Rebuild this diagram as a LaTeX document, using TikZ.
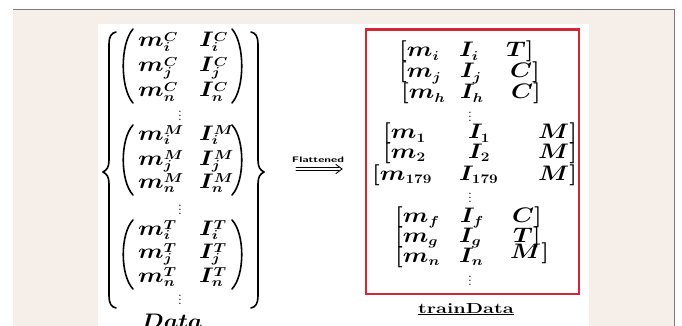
\RequirePackage{fix-cm}
\documentclass[tikz,border=0pt]{standalone}
\DeclareMathSizes{21}{21}{13}{10}
\DeclareMathSizes{14}{14}{10}{7}
\definecolor{panelbg}{RGB}{246,238,233}
\definecolor{panelrule}{RGB}{128,122,122}
\definecolor{boxred}{RGB}{214,38,54}
% compact superscript/subscript pair, kept close to the base letter
\newcommand{\tightss}[3]{#1^{\smash{\raisebox{-2.5pt}{$\scriptstyle #3$}}}_{\smash{\raisebox{1.5pt}{$\scriptstyle #2$}}}}
\tikzset{
  mathent/.style={inner sep=0pt, anchor=base west, xscale=1.18, font=\boldmath\fontsize{21}{23}\selectfont},
  dotsent/.style={inner sep=0pt, anchor=center, font=\boldmath\fontsize{14}{16}\selectfont},
  delim/.style={line width=1.6pt, line cap=round},
  bracedelim/.style={line width=1.6pt, line cap=round, line join=round},
  flatline/.style={line width=0.9pt, line cap=round, line join=miter},
}
\begin{document}
\begin{tikzpicture}[x=1pt,y=-1pt]
\useasboundingbox (0,0) rectangle (682,326);
\clip (0,0) rectangle (682,326);
% page and panel
\fill[white] (0,0) rectangle (682,326);
\fill[panelbg] (13,9.5) rectangle (674.5,326);
\draw[panelrule, line width=0.8pt] (13,9.5) -- (674.5,9.5) -- (674.5,326);
\fill[white] (98,24) rectangle (589,326);

% ---- left: grouped data matrices ----
\foreach \g/\r/\y in {C/i/42, C/j/67, C/n/92, M/i/135, M/j/160, M/n/183, T/i/230, T/j/253, T/n/277}{
  \node[mathent] (m\g\r) at (138,{\y+5}) {$\tightss{m}{\r}{\g}$};
  \node[mathent] (I\g\r) at (199,{\y+5}) {$\tightss{I}{\r}{\g}$};
}
\node[dotsent] (dl1) at (180,113) {$\vdots$};
\node[dotsent] (dl2) at (180,207) {$\vdots$};
\node[dotsent] (dl3) at (180,297) {$\vdots$};

% parentheses of the three matrices
\foreach \t/\b in {29/103, 125/195, 220/289}{
  \draw[delim] (133,\t) .. controls (120,{\t+0.2*(\b-\t)}) and (120,{\t+0.8*(\b-\t)}) .. (133,\b);
  \draw[delim] (232,\t) .. controls (245,{\t+0.2*(\b-\t)}) and (245,{\t+0.8*(\b-\t)}) .. (232,\b);
}

% outer braces
\draw[bracedelim] (116,32) .. controls (111,33) and (109,37) .. (109,44) -- (109,160)
  .. controls (109,167) and (107,170) .. (103,172)
  .. controls (107,174) and (109,177) .. (109,184) -- (109,296)
  .. controls (109,303) and (111,307) .. (116,308);
\draw[bracedelim] (251,32) .. controls (256,33) and (258,37) .. (258,44) -- (258,160)
  .. controls (258,167) and (260,170) .. (264,172)
  .. controls (260,174) and (258,177) .. (258,184) -- (258,296)
  .. controls (258,303) and (256,307) .. (251,308);

\node[inner sep=0pt, anchor=base, xscale=1.1, font=\boldmath\fontsize{21}{23}\selectfont] (data) at (172,328) {$Data$};

% ---- flattening arrow ----
\coordinate (flatL) at (296,169);
\coordinate (flatR) at (342,169);
\draw[flatline] ([yshift=-1.7pt]flatL) -- ([xshift=-3pt,yshift=-1.7pt]flatR);
\draw[flatline] ([yshift=1.7pt]flatL) -- ([xshift=-3pt,yshift=1.7pt]flatR);
\draw[flatline] ([xshift=-6pt,yshift=-4.5pt]flatR) -- (flatR) -- ([xshift=-6pt,yshift=4.5pt]flatR);
\node[inner sep=0pt, anchor=base, font=\sffamily\bfseries\fontsize{8}{9}\selectfont, xscale=1.5] (flatlbl) at (318,162) {Flattened};

% ---- right: flattened training rows ----
\draw[boxred, line width=2.8pt] (366,29.5) rectangle (579,294);
\foreach \n/\y/\xa/\xb/\xc/\ma/\ib/\lc in {
  r1/52/399/459/506/{m_i}/{I_i}/T,
  r2/73/399/460/510/{m_j}/{I_j}/C,
  r3/94/401/460/511/{m_h}/{I_h}/C,
  r4/134/383/468/538/{m_1}/{I_1}/M,
  r5/153/383/468/538/{m_2}/{I_2}/M,
  r6/175/372/459/538/{m_{179}}/{I_{179}}/M,
  r7/217/395/460/512/{m_f}/{I_f}/C,
  r8/237/395/459/513/{m_g}/{I_g}/T}{
  \node[mathent] (\n a) at (\xa,{\y+5}) {$[\ma$};
  \node[mathent] (\n b) at (\xb,{\y+5}) {$\ib$};
  \node[mathent] (\n c) at (\xc,{\y+5}) {$\lc]$};
}
\node[mathent] (r9a) at (395,262) {$[m_n$};
\node[mathent] (r9b) at (459,262) {$I_n$};
\node[mathent] (r9c) at (510,258) {$M]$};
\node[dotsent] (dr1) at (470,114) {$\vdots$};
\node[dotsent] (dr2) at (470,195) {$\vdots$};
\node[dotsent] (dr3) at (470,278) {$\vdots$};

\node[inner sep=0pt, anchor=base, font=\bfseries\fontsize{14.5}{16}\selectfont, xscale=1.38] (train) at (466,313) {\underline{trainData}};
\end{tikzpicture}
\end{document}
